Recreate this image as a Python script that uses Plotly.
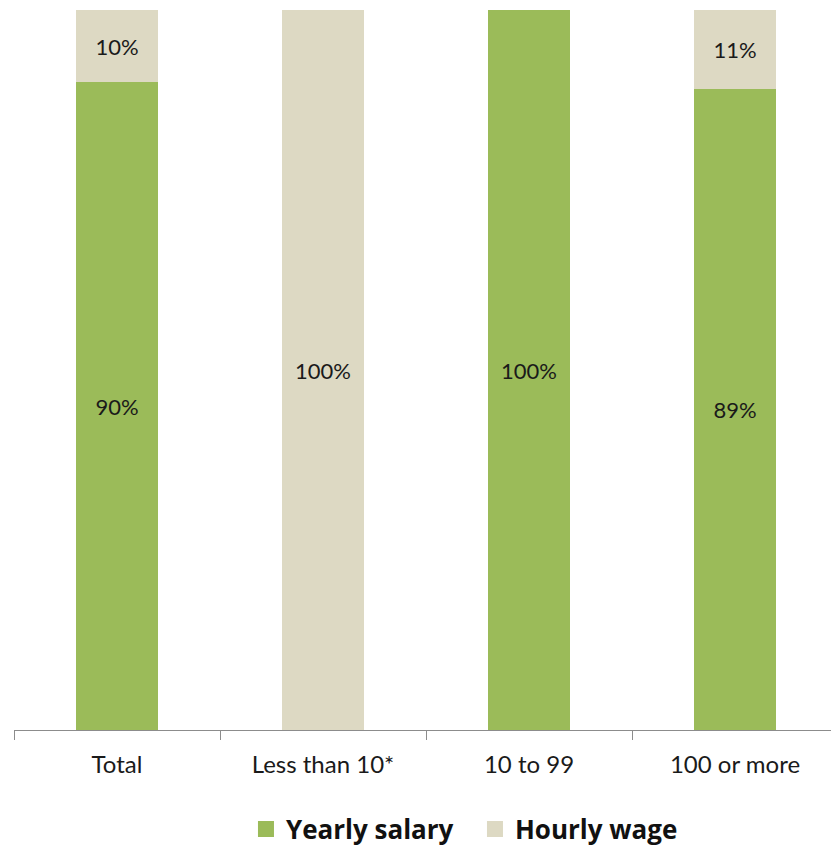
import plotly.graph_objects as go

# Share of employees by pay basis, by establishment size
categories = ["Total", "Less than 10*", "10 to 99", "100 or more"]
yearly_salary = [90, 0, 100, 89]
hourly_wage = [10, 100, 0, 11]

GREEN = "#9BBB59"
BEIGE = "#DDD9C3"
FONT = "Lato, 'Open Sans', sans-serif"
LEGEND_FONT = "'Open Sans', Lato, sans-serif"
TEXT = "#1a1a1a"


def labels(values):
    return [f"{v}%" if v > 0 else "" for v in values]


series = [("Yearly salary", yearly_salary, GREEN), ("Hourly wage", hourly_wage, BEIGE)]

fig = go.Figure()
for name, values, color in series:
    fig.add_bar(
        x=categories, y=values, name=name, showlegend=False,
        marker=dict(color=color, line=dict(width=0)),
        text=labels(values), textposition="inside",
        insidetextanchor="middle", textfont=dict(size=22, color=TEXT),
    )

# Legend entries with larger square swatches
for name, values, color in series:
    fig.add_scatter(
        x=[None], y=[None], mode="markers", name=name,
        marker=dict(symbol="square", size=18, color=color),
    )

fig.update_layout(
    width=831, height=846,
    barmode="stack", bargap=0.6,
    margin=dict(l=14, r=0, t=10, b=116),
    plot_bgcolor="white", paper_bgcolor="white",
    font=dict(family=FONT, size=24, color=TEXT),
    showlegend=True,
    legend=dict(
        orientation="h", xref="container", yref="container",
        x=0.296, xanchor="left", y=0.02, yanchor="middle",
        font=dict(size=26, family=LEGEND_FONT, weight="bold", color="#111"),
        traceorder="normal", itemsizing="trace", itemwidth=30,
        entrywidth=184, entrywidthmode="pixels",
    ),
)
fig.update_xaxes(
    type="category", range=[-0.5, 3.466],
    showline=True, linecolor="#8c8c8c", linewidth=1.3,
    ticks="outside", tickson="boundaries", ticklen=9, tickcolor="#8c8c8c",
    tickwidth=1.3, showgrid=False, ticklabelstandoff=13,
)
fig.update_yaxes(range=[0, 100], visible=False, showgrid=False)

fig.write_html("out.html")
